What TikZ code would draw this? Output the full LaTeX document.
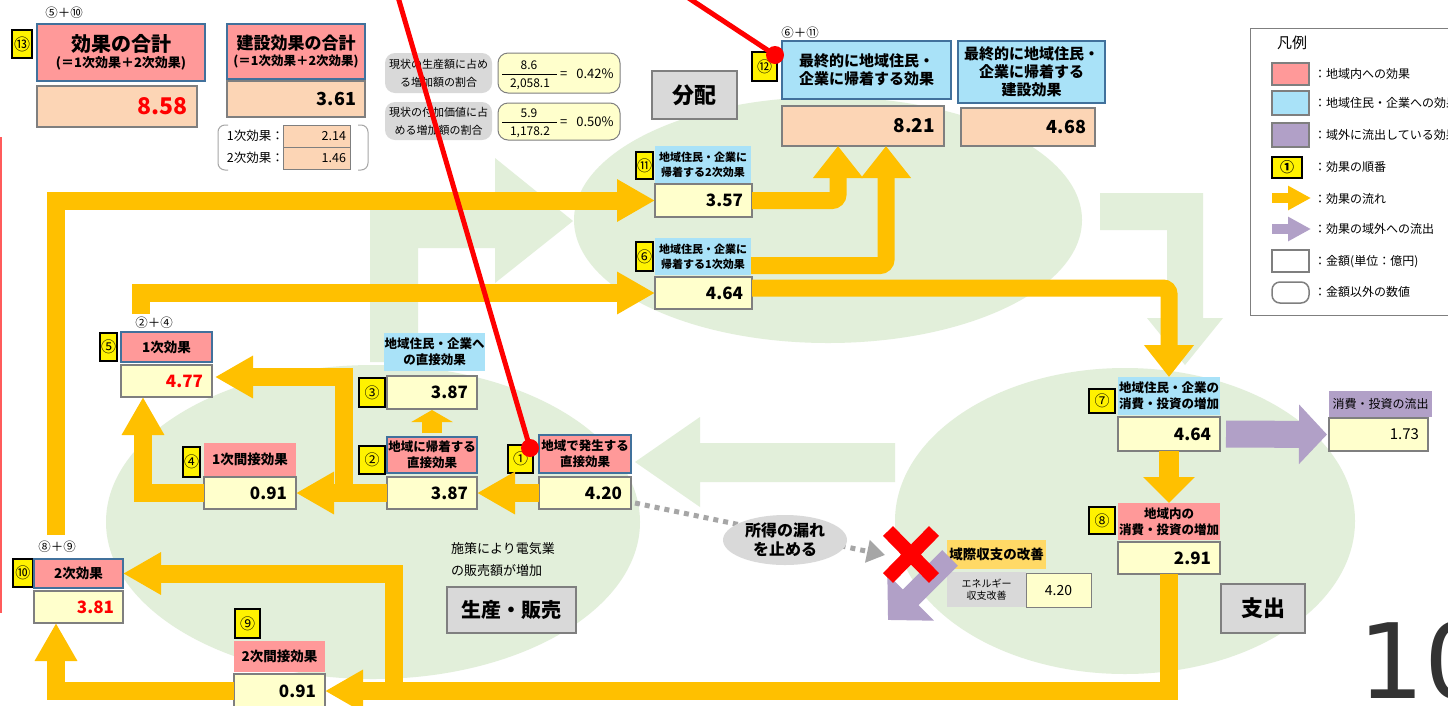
\documentclass[tikz,border=0pt]{standalone}
\usepackage{fontspec}
\setmainfont{Noto Sans CJK JP}
\newfontfamily\numfont{DejaVu Sans}
\usetikzlibrary{arrows.meta,calc,shapes.geometric}
\definecolor{pinkF}{HTML}{FF9999}
\definecolor{cyanF}{HTML}{A9E2F8}
\definecolor{purpF}{HTML}{B1A0C7}
\definecolor{orgA}{HTML}{FFC000}
\definecolor{ylwF}{HTML}{FFFFCC}
\definecolor{peachF}{HTML}{FCD5B5}
\definecolor{bgG}{HTML}{E2EFDA}
\definecolor{grayF}{HTML}{D9D9D9}
\definecolor{grayB}{HTML}{7F7F7F}
\definecolor{blueB}{HTML}{41719C}
\definecolor{goldF}{HTML}{FFD966}
\definecolor{dotG}{HTML}{A6A6A6}
\definecolor{numG}{HTML}{333333}
\definecolor{redL}{HTML}{FF5B5B}
\newcommand\fz[2]{\fontsize{#1pt}{#2pt}\selectfont}
\newcommand\mybox[7]{%
 \pgfmathsetmacro\myw{#5-#3}\pgfmathsetmacro\myh{#6-#4}%
 \pgfmathsetmacro\mycx{(#3+#5)/2}\pgfmathsetmacro\mycy{(#4+#6)/2}%
 \node[inner sep=0pt, outer sep=0pt, align=center, minimum width=\myw pt, minimum height=\myh pt, #2] (#1) at (\mycx,\mycy) {#7};}
\newcommand\myval[8][9]{%
 \pgfmathsetmacro\myw{#6-#4}\pgfmathsetmacro\myh{#7-#5}\pgfmathsetmacro\mytw{#6-#4-2*#1}%
 \pgfmathsetmacro\mycx{(#4+#6)/2}\pgfmathsetmacro\mycy{(#5+#7)/2}%
 \node[inner xsep=#1pt, inner ysep=0pt, outer sep=0pt, align=right, text width=\mytw pt, minimum width=\myw pt, minimum height=\myh pt, #3] (#2) at (\mycx,\mycy) {#8};}
\tikzset{
 badge/.style={fill=yellow, draw=black, line width=1.3pt, font=\fz{15}{16}},
 pinkB/.style={fill=pinkF, draw=blueB, line width=2pt, font=\fz{12.5}{16}\bfseries},
 pinkN/.style={fill=pinkF, font=\fz{12.5}{16}\bfseries},
 cyanB/.style={fill=cyanF, draw=blueB, line width=2pt, font=\fz{15}{18}\bfseries},
 cyanN/.style={fill=cyanF, font=\fz{11}{15}\bfseries},
 valY/.style={fill=ylwF, draw=grayB, line width=1.5pt, font=\fz{17}{20}\bfseries},
 valP/.style={fill=peachF, draw=grayB, line width=1.2pt, font=\fz{18}{20}\bfseries},
 sect/.style={fill=grayF, draw=grayB, line width=2.5pt, font=\fz{22}{24}\bfseries},
 oar/.style={draw=orgA, line width=18pt, line join=miter, -{Triangle[length=38pt,width=40pt]}},
 oarR/.style={draw=orgA, line width=17pt, rounded corners=6pt, -{Triangle[length=32pt,width=48pt]}},
 note/.style={font=\fz{12.5}{14}, inner sep=0pt},
 lgtext/.style={font=\fz{12}{14}, inner sep=0pt, anchor=west},
}
\begin{document}
\begin{tikzpicture}[x=1pt,y=-1pt]
\useasboundingbox (0,0) rectangle (1448,705);
\fill[white] (0,0) rectangle (1448,705);
% background ellipses and arrows
\fill[bgG] (373,522) ellipse [x radius=267, y radius=157];
\fill[bgG] (828,220) ellipse [x radius=254, y radius=123];
\fill[bgG] (1125,521) ellipse [x radius=230, y radius=153];
\fill[bgG] (370,362) -- (370,195) -- (495,195) -- (495,158) -- (573,221) -- (495,283) -- (495,248) -- (418,248) -- (418,362) -- cycle;
\fill[bgG] (1100,193) -- (1203,193) -- (1203,318) -- (1223,318) -- (1185,365) -- (1147,318) -- (1167,318) -- (1167,230) -- (1100,230) -- cycle;
\fill[bgG] (895,443) -- (700,443) -- (700,417) -- (635,462) -- (700,507) -- (700,482) -- (895,482) -- cycle;
\draw[redL, line width=2pt] (1,137) -- (1,613);
% ---------- top left
\node[note] (c13) at (64,13) {⑤＋⑩};
\mybox{b13}{badge, font=\fz{16}{17}}{12}{30}{32}{58}{⑬}
\mybox{l13}{pinkB}{37}{24}{205}{81}{\fz{20}{24}\bfseries 効果の合計\\\fz{13}{18}\bfseries (＝1次効果＋2次効果)}
\myval{v13}{valP, line width=2pt, text=red, font=\fz{23}{24}\bfseries}{37}{86}{197}{127}{8.58}
\mybox{l13c}{pinkB}{227}{24}{365}{79}{\fz{17}{20}\bfseries 建設効果の合計\\\fz{12.5}{16}\bfseries (＝1次効果＋2次効果)}
\myval{v13c}{valP}{227}{81}{365}{117}{3.61}
\node[note, anchor=east] (t214) at (284,136) {1次効果：};
\node[note, anchor=east] (t146) at (284,158) {2次効果：};
\myval[4]{v214}{fill=peachF, draw=grayB, line width=0.8pt, font=\fz{12.5}{14}}{283}{125}{350}{147}{2.14}
\myval[4]{v146}{fill=peachF, draw=grayB, line width=0.8pt, font=\fz{12.5}{14}}{283}{147}{350}{169}{1.46}
\draw[black!35, line width=1pt, rounded corners=7pt] (228,125) -- (218,125) -- (218,170) -- (228,170);
\draw[black!35, line width=1pt, rounded corners=7pt] (358,125) -- (368,125) -- (368,170) -- (358,170);
% ratios
\mybox{r1}{fill=grayF, rounded corners=10pt, font=\fz{11}{18}}{385}{53}{492}{93}{現状の生産額に占め\\る増加額の割合}
\mybox{r1v}{fill=ylwF, draw=grayB, line width=1pt, rounded corners=10pt}{498}{53}{620}{93}{}
\node[note, font=\fz{12}{14}] (r1n) at (529,65) {8.6};
\node[note, font=\fz{12}{14}] (r1d) at (530,84) {2,058.1};
\draw[line width=1pt] (502,74) -- (557,74);
\node[note, font=\fz{13}{14}, anchor=west] (r1e) at (560,74) {=\hspace{9pt}0.42\%};
\mybox{r2}{fill=grayF, rounded corners=10pt, font=\fz{11}{18}}{385}{102}{492}{140}{現状の付加価値に占\\める増加額の割合}
\mybox{r2v}{fill=ylwF, draw=grayB, line width=1pt, rounded corners=10pt}{498}{103}{620}{140}{}
\node[note, font=\fz{12}{14}] (r2n) at (529,113) {5.9};
\node[note, font=\fz{12}{14}] (r2d) at (530,132) {1,178.2};
\draw[line width=1pt] (502,122) -- (557,122);
\node[note, font=\fz{13}{14}, anchor=west] (r2e) at (560,122) {=\hspace{9pt}0.50\%};
% ---------- distribution
\node[note] (c12) at (800,33) {⑥＋⑪};
\mybox{b12}{badge}{752}{52}{777}{81}{⑫}
\mybox{l12}{cyanB}{782}{41}{951}{99}{最終的に地域住民・\\企業に帰着する効果}
\myval{v12}{valP, line width=2.2pt, font=\fz{19}{20}\bfseries}{782}{106}{944}{146}{8.21}
\mybox{l12c}{cyanB}{958}{41}{1105}{103}{最終的に地域住民・\\企業に帰着する\\建設効果}
\myval{v12c}{valP}{961}{108}{1095}{146}{4.68}
\mybox{g1}{sect}{652}{71}{737}{119}{分配}
\mybox{b11}{badge}{636}{152}{653}{179}{⑪}
\mybox{l11}{cyanN}{655}{146}{751}{183}{地域住民・企業に\\帰着する2次効果}
\myval{v11}{valY}{655}{184}{752}{217}{3.57}
\mybox{b6}{badge}{636}{242}{653}{271}{⑥}
\mybox{l6}{cyanN}{655}{238}{751}{275}{地域住民・企業に\\帰着する1次効果}
\myval{v6}{valY}{655}{277}{752}{309}{4.64}
% ---------- production
\node[note] (c5) at (154,323) {②＋④};
\mybox{b5}{badge}{100}{333}{117}{361}{⑤}
\mybox{l5}{pinkB, font=\fz{13.5}{16}\bfseries}{121}{332}{212}{362}{1次効果}
\myval{v5}{valY, text=red}{121}{365}{212}{397}{4.77}
\mybox{l3}{cyanN, font=\fz{12.5}{16}\bfseries}{384}{333}{485}{371}{地域住民・企業へ\\の直接効果}
\mybox{b3}{badge}{359}{378}{385}{407}{③}
\myval{v3}{valY}{387}{376}{477}{409}{3.87}
\mybox{b2}{badge}{359}{446}{385}{474}{②}
\mybox{l2}{pinkB}{387}{437}{477}{473}{地域に帰着する\\直接効果}
\myval{v2}{valY}{387}{477}{477}{509}{3.87}
\mybox{b4}{badge}{183}{447}{200}{477}{④}
\mybox{l4}{pinkN, font=\fz{13.5}{16}\bfseries}{204}{443}{296}{476}{1次間接効果}
\myval{v4}{valY}{204}{477}{296}{509}{0.91}
\mybox{b1}{badge}{508}{445}{533}{473}{①}
\mybox{l1}{pinkB}{539}{435}{631}{473}{地域で発生する\\直接効果}
\myval{v1}{valY}{539}{477}{631}{509}{4.20}
\node[note, anchor=north west, align=left, font=\fz{13}{22}] (t0) at (451,542) {施策により電気業\\の販売額が増加};
\mybox{g2}{sect, font=\fz{20}{22}\bfseries}{447}{587}{576}{633}{生産・販売}
\node[note] (c10) at (57,547) {⑧＋⑨};
\mybox{b10}{badge}{13}{559}{33}{587}{⑩}
\mybox{l10}{pinkB, font=\fz{13.5}{16}\bfseries}{34}{559}{123}{588}{2次効果}
\myval{v10}{valY, text=red}{34}{591}{123}{623}{3.81}
\mybox{b9}{badge}{235}{609}{260}{638}{⑨}
\mybox{l9}{pinkN, font=\fz{13.5}{16}\bfseries}{234}{641}{325}{672}{2次間接効果}
\myval{v9}{valY}{234}{674}{325}{708}{0.91}
% ---------- spending
\mybox{b7}{badge}{1089}{389}{1115}{413}{⑦}
\mybox{l7}{cyanN, font=\fz{12.5}{16}\bfseries}{1118}{377}{1220}{415}{地域住民・企業の\\消費・投資の増加}
\myval{v7}{valY}{1118}{417}{1220}{451}{4.64}
\mybox{lout}{fill=purpF, font=\fz{12}{14}}{1329}{391}{1432}{417}{消費・投資の流出}
\myval{vout}{valY, font=\fz{15}{16}}{1329}{418}{1428}{451}{1.73}
\mybox{b8}{badge}{1089}{507}{1115}{534}{⑧}
\mybox{l8}{pinkN}{1118}{503}{1220}{540}{地域内の\\消費・投資の増加}
\myval{v8}{valY}{1118}{542}{1220}{574}{2.91}
\mybox{g3}{sect}{1221}{584}{1305}{633}{支出}
\mybox{le}{fill=goldF, font=\fz{13.5}{16}\bfseries}{947}{540}{1046}{569}{域際収支の改善}
\mybox{len}{fill=grayF, font=\fz{10}{12}}{947}{572}{1026}{607}{エネルギー\\収支改善}
\mybox{ven}{fill=ylwF, draw=grayB, line width=1pt, font=\fz{14}{16}}{1026}{573}{1091}{607}{4.20}
% ---------- legend
\draw[grayB, line width=1pt] (1250,28) rectangle (1475,315);
\node[note, font=\fz{15}{16}, anchor=west] (lgT) at (1277,43) {凡例};
\mybox{lg1}{fill=pinkF, draw=grayB, line width=1.5pt}{1272}{63}{1309}{85}{}
\mybox{lg2}{fill=cyanF, draw=grayB, line width=1.5pt}{1272}{91}{1309}{115}{}
\mybox{lg3}{fill=purpF, draw=grayB, line width=1.5pt}{1272}{123}{1309}{147}{}
\mybox{lg4}{badge, font=\fz{14}{15}\bfseries}{1272}{157}{1302}{178}{①}
\draw[draw=orgA, line width=10pt, -{Triangle[length=23pt,width=23pt]}] (1272,198) -- (1311,198);
\draw[draw=purpF, line width=10pt, -{Triangle[length=23pt,width=23pt]}] (1272,229) -- (1311,229);
\mybox{lg7}{fill=white, draw=grayB, line width=1.5pt}{1272}{250}{1309}{272}{}
\mybox{lg8}{fill=white, draw=grayB, line width=1.5pt, rounded corners=8pt}{1272}{282}{1309}{303}{}
\node[lgtext] (lt1) at (1314,74) {：地域内への効果};
\node[lgtext] (lt2) at (1314,103) {：地域住民・企業への効果};
\node[lgtext] (lt3) at (1314,135) {：域外に流出している効果};
\node[lgtext] (lt4) at (1314,167) {：効果の順番};
\node[lgtext] (lt5) at (1314,199) {：効果の流れ};
\node[lgtext] (lt6) at (1314,229) {：効果の域外への流出};
\node[lgtext] (lt7) at (1314,262) {：金額(単位：億円)};
\node[lgtext] (lt8) at (1314,292) {：金額以外の数値};
% ---------- orange flows
\coordinate (s5) at (141,314);
\coordinate (s10) at (56,535);
\draw[oar] (v1.west) -- (v2.east);
\draw[oar] (v2.west) -- (v4.east);
\draw[oar] (344,502) -- (344,377) -- ([xshift=3pt,yshift=4pt]v5.east);
\draw[oar] (v4.west) -| ([xshift=-23.5pt]v5.south);
\draw[draw=orgA, line width=20pt, -{Triangle[length=12pt,width=41pt]}] ([yshift=4pt]l2.north) -- ([yshift=-1pt]v3.south);
\draw[oar] (s5) |- (v6.west);
\draw[oar] (s10) |- (v11.west);
\draw[oarR] (v11.east) -| ([xshift=-25pt]v12.south);
\draw[oarR] ([yshift=-9pt]l6.east) -| ([xshift=23pt]v12.south);
\draw[oarR] ([yshift=5pt]v6.east) -| (l7.north);
\draw[draw=orgA, line width=20pt, -{Triangle[length=26pt,width=50pt]}] (v7.south) -- (l8.north);
\draw[oar] (v8.south) |- (v9.east);
\draw[oar] (394,699) |- (l10.east);
\draw[oar] (v9.west) -| ([xshift=-22.5pt]v10.south);
% ---------- purple flows
\draw[draw=purpF, line width=27pt, -{Triangle[length=28pt,width=58pt]}] ([xshift=6pt]v7.east) -- ([xshift=-2pt]vout.west);
\coordinate (xmark) at (911,555);
\coordinate (ptip) at (888,620);
\draw[draw=purpF, line width=22pt, -{Triangle[length=32pt,width=64pt]}] (950,558) -- (ptip);
% leak line
\draw[draw=dotG, line width=5pt, dash pattern=on 5pt off 5pt, -{Triangle[length=18pt,width=22pt]}] ([shift={(4pt,6pt)}]v1.south east) -- ([xshift=-26pt]xmark);
\node[ellipse, fill=grayF, minimum width=124pt, minimum height=50pt, inner sep=0pt, align=center, font=\fz{16}{19}\bfseries] (e1) at (785,540) {所得の漏れ\\を止める};
\draw[red, line width=14pt] (888,531) -- (934,578) (888,578) -- (934,531);
% page number
\node[anchor=base west, inner sep=0pt, font=\numfont\fz{104}{110}, text=numG] (pg) at (1358,698) {10};
% red overlay
\coordinate (rt1) at (398,-3);
\coordinate (rd1) at (530,448);
\coordinate (rt2) at (687,-3);
\coordinate (rd2) at (775,55);
\draw[red, line width=5pt] (rt1) -- (rd1);
\draw[red, line width=5pt] (rt2) -- (rd2);
\fill[red] (rd1) circle (9);
\fill[red] (rd2) circle (9);
\end{tikzpicture}
\end{document}
